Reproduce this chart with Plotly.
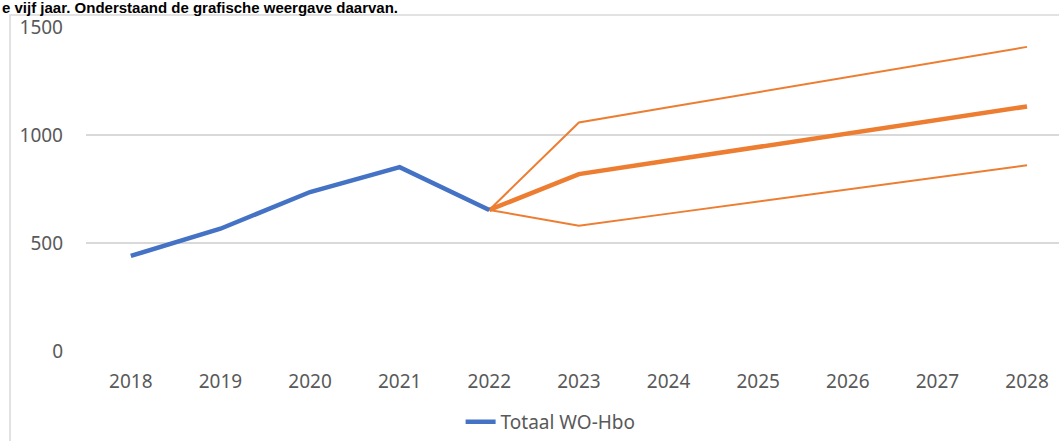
import plotly.graph_objects as go

years = [2018, 2019, 2020, 2021, 2022, 2023, 2024, 2025, 2026, 2027, 2028]

# realised totals
totaal = [440, 566, 736, 851, 653]
hist_years = years[:5]

# forecast branches starting from 2022
fc_years = years[4:]
prognose_mid = [653, 819, 882, 945, 1007, 1070, 1132]
prognose_hoog = [653, 1058, 1128, 1198, 1268, 1338, 1408]
prognose_laag = [653, 580, 636, 692, 748, 804, 860]

blue = "#4472C4"
orange = "#ED7D31"
grid = "#D9D9D9"
font_col = "#595959"

fig = go.Figure()

fig.add_trace(go.Scatter(x=fc_years, y=prognose_hoog, mode="lines",
                         line=dict(color=orange, width=2), showlegend=False))
fig.add_trace(go.Scatter(x=fc_years, y=prognose_laag, mode="lines",
                         line=dict(color=orange, width=2), showlegend=False))
fig.add_trace(go.Scatter(x=fc_years, y=prognose_mid, mode="lines",
                         line=dict(color=orange, width=4.5), showlegend=False))
fig.add_trace(go.Scatter(x=hist_years, y=totaal, mode="lines", name="Totaal WO-Hbo",
                         line=dict(color=blue, width=4.5)))

# chart frame (Excel chart area border)
fig.add_shape(type="rect", xref="paper", yref="paper",
              xsizemode="pixel", ysizemode="pixel", xanchor=0, yanchor=1,
              x0=-76, x1=1100, y0=12, y1=-500,
              line=dict(color=grid, width=1.5), fillcolor="rgba(0,0,0,0)")

fig.add_annotation(text="e vijf jaar. Onderstaand de grafische weergave daarvan.",
                   xref="paper", yref="paper", x=0, y=1, xanchor="left", yanchor="middle",
                   xshift=-86, yshift=20, showarrow=False,
                   font=dict(family="Liberation Sans", size=15, color="black", weight="bold"))

fig.update_layout(
    width=1059, height=441,
    margin=dict(l=86, r=0, t=27, b=88),
    plot_bgcolor="white", paper_bgcolor="white",
    font=dict(family="Noto Sans", size=19, color=font_col),
    xaxis=dict(range=[2017.5, 2028.357], tickvals=years, showgrid=False,
               zeroline=False, showline=False, ticks="", ticklabelstandoff=17,
               tickfont=dict(size=19, color=font_col)),
    yaxis=dict(range=[0, 1500], tickvals=[0, 500, 1000, 1500], showgrid=True,
               gridcolor=grid, gridwidth=1.5, zeroline=False, showline=False,
               ticks="", ticklabelstandoff=22, tickfont=dict(size=19, color=font_col)),
    legend=dict(orientation="h", x=0.385, y=-0.221, xanchor="left", yanchor="middle",
                font=dict(size=19, color=font_col)),
)

fig.write_html("out.html", config={"displayModeBar": False},
               post_script="document.body.style.margin='0';")
